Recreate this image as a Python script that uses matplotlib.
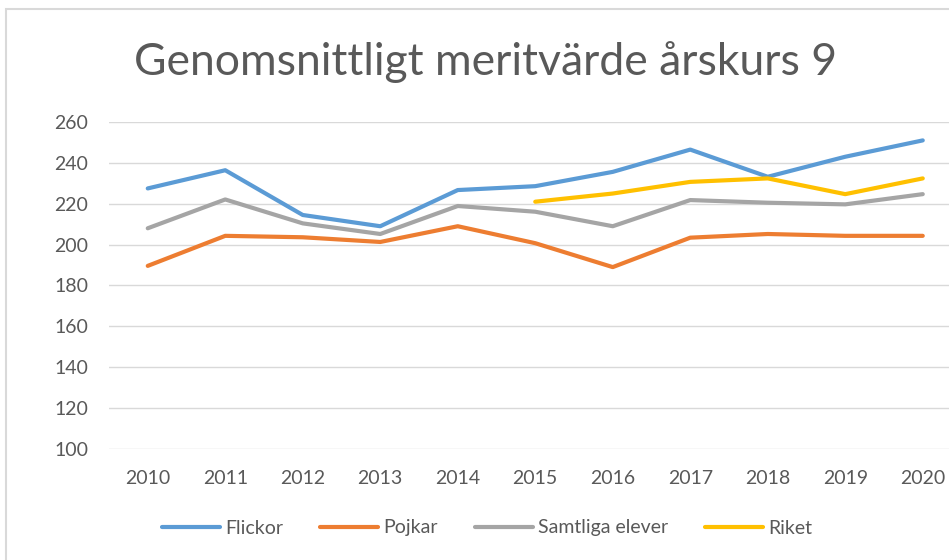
import matplotlib.pyplot as plt
from matplotlib.patches import Rectangle

# data
years = ["2010", "2011", "2012", "2013", "2014", "2015", "2016", "2017", "2018", "2019", "2020"]
flickor = [227.5, 236.4, 214.5, 209.0, 226.7, 228.6, 235.6, 246.5, 233.2, 243.0, 251.0]
pojkar = [189.6, 204.3, 203.6, 201.3, 209.0, 200.7, 189.0, 203.4, 205.2, 204.3, 204.3]
samtliga = [208.0, 222.1, 210.4, 205.2, 218.9, 216.1, 209.0, 221.8, 220.5, 219.7, 224.7]
riket_years = ["2015", "2016", "2017", "2018", "2019", "2020"]
riket = [221.0, 225.0, 230.7, 232.4, 224.7, 232.4]

W, H = 949, 560
FONT = "Lato"
TXT = "#595959"

fig = plt.figure(figsize=(W / 100, H / 100), dpi=100)
fig.patch.set_facecolor("white")

# chart border (cut off on the right and bottom in the reference)
fig.patches.append(Rectangle((6 / W, -0.1), 1.2, 1 - 9 / H + 0.1, transform=fig.transFigure,
                             fill=False, edgecolor="#D9D9D9", linewidth=1.5))

ax = fig.add_axes([109 / W, (H - 449) / H, 852.5 / W, 327 / H])

x = list(range(len(years)))
rx = [years.index(y) for y in riket_years]
lw = 3.0
ax.plot(x, flickor, color="#5B9BD5", lw=lw, label="Flickor", solid_capstyle="round")
ax.plot(x, pojkar, color="#ED7D31", lw=lw, label="Pojkar", solid_capstyle="round")
ax.plot(x, samtliga, color="#A5A5A5", lw=lw, label="Samtliga elever", solid_capstyle="round")
ax.plot(rx, riket, color="#FFC000", lw=lw, label="Riket", solid_capstyle="round")

ax.set_xlim(-0.5, len(years) - 0.5)
ax.set_ylim(100, 260)
ax.set_yticks(range(100, 261, 20))
ax.set_xticks(x)
ax.set_xticklabels(years)
ax.grid(axis="y", color="#D9D9D9", linewidth=1)
ax.set_axisbelow(True)
for s in ax.spines.values():
    s.set_visible(False)
ax.tick_params(length=0, colors=TXT, labelsize=14)
ax.tick_params(axis="x", pad=15)
ax.tick_params(axis="y", pad=15)
for lab in ax.get_xticklabels() + ax.get_yticklabels():
    lab.set_fontfamily(FONT)

fig.text(485 / W, 1 - 62 / H, "Genomsnittligt meritvärde årskurs 9", ha="center", va="center",
         fontsize=32, color=TXT, family=FONT)

fig.legend(loc="center", bbox_to_anchor=(487 / W, 1 - 528 / H), ncol=4, frameon=False,
           handlelength=3.0, columnspacing=1.9, handletextpad=0.25,
           prop={"family": FONT, "size": 14}, labelcolor=TXT)

fig.savefig("out.png", dpi=100)
